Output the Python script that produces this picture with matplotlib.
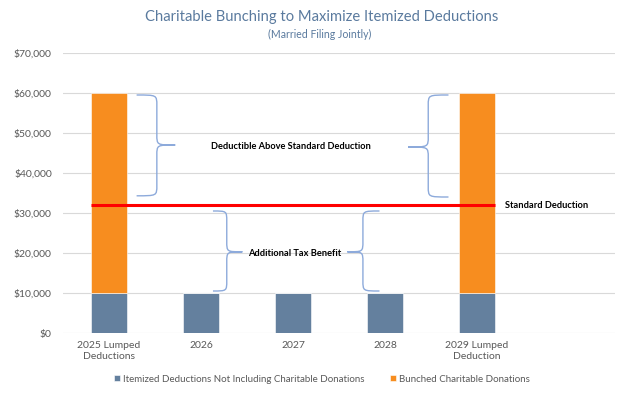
import matplotlib
matplotlib.use("Agg")
import matplotlib.pyplot as plt
from matplotlib.path import Path
from matplotlib.patches import PathPatch
from matplotlib.ticker import FuncFormatter

plt.rcParams['font.family'] = ['Lato', 'DejaVu Sans']

categories = ["2025 Lumped\nDeductions", "2026", "2027", "2028", "2029 Lumped\nDeduction", ""]
itemized = [10000, 10000, 10000, 10000, 10000, 0]
bunched = [50000, 0, 0, 0, 50000, 0]
standard_deduction = 32000
series_names = ["Itemized Deductions Not Including Charitable Donations",
                "Bunched Charitable Donations"]

BLUE = "#64809E"
ORANGE = "#F78D1F"
BRACE = "#8DAADB"
GREY = "#595959"
TITLE = "#5A7A9E"

fig = plt.figure(figsize=(6.22, 3.93), dpi=100)
ax = fig.add_axes([63/622, 1-333/393, (615-63)/622, (333-53)/393])

x = list(range(len(categories)))
w = 0.4
b1 = ax.bar(x, itemized, width=w, color=BLUE, edgecolor="white", linewidth=0.4,
            label=series_names[0], zorder=3)
b2 = ax.bar(x, bunched, width=w, bottom=itemized, color=ORANGE, edgecolor="white",
            linewidth=0.4, label=series_names[1], zorder=3)

ax.plot([-w/2, 4 + w/2], [standard_deduction]*2, color="#FF0000", lw=2.2, zorder=4,
        solid_capstyle="butt")

ax.set_xlim(-0.5, len(categories) - 0.5)
ax.set_ylim(0, 70000)
ax.set_yticks(range(0, 70001, 10000))
ax.yaxis.set_major_formatter(FuncFormatter(lambda v, p: f"${v:,.0f}"))
ax.set_xticks(x)
ax.set_xticklabels(categories)
ax.grid(axis="y", color="#D9D9D9", lw=0.8, zorder=0)
for s in ax.spines.values():
    s.set_visible(False)
ax.tick_params(axis="both", length=0, labelsize=7.5, colors=GREY)
ax.tick_params(axis="y", pad=8)
ax.tick_params(axis="x", pad=6)


def brace(xe, xs, xt, ytop, ybot, ymid, r=2600):
    verts = [(xe, ytop), (xs, ytop), (xs, ytop), (xs, ytop - r),
             (xs, ymid + r),
             (xs, ymid), (xs, ymid), (xt, ymid),
             (xs, ymid), (xs, ymid), (xs, ymid - r),
             (xs, ybot + r),
             (xs, ybot), (xs, ybot), (xe, ybot)]
    codes = [Path.MOVETO, Path.CURVE4, Path.CURVE4, Path.CURVE4,
             Path.LINETO,
             Path.CURVE4, Path.CURVE4, Path.CURVE4,
             Path.CURVE4, Path.CURVE4, Path.CURVE4,
             Path.LINETO,
             Path.CURVE4, Path.CURVE4, Path.CURVE4]
    ax.add_patch(PathPatch(Path(verts, codes), fill=False, edgecolor=BRACE, lw=1.0, zorder=5))


brace(0.30, 0.52, 0.72, 59500, 34300, 47000)
brace(3.69, 3.47, 3.25, 59500, 34000, 46500)
brace(1.13, 1.28, 1.45, 30500, 10500, 20300)
brace(2.94, 2.76, 2.59, 30500, 10500, 20300)

ax.text(1.98, 46700, "Deductible Above Standard Deduction", ha="center", va="center",
        fontsize=6.7, fontweight="bold", color="black")
ax.text(2.02, 20000, "Additional Tax Benefit", ha="center", va="center",
        fontsize=6.7, fontweight="bold", color="black")
ax.text(4.30, standard_deduction, "Standard Deduction", ha="left", va="center",
        fontsize=6.7, fontweight="bold", color="black")

fig.text(322/622, 1-17/393, "Charitable Bunching to Maximize Itemized Deductions",
         ha="center", va="center", fontsize=10.6, color=TITLE)
fig.text(320/622, 1-34/393, "(Married Filing Jointly)", ha="center", va="center",
         fontsize=7.6, color=TITLE)

leg = fig.legend(handles=[b1, b2], loc="center", bbox_to_anchor=(322/622, 1-379/393),
                 ncol=2, frameon=False, fontsize=7, handlelength=0.6, handleheight=0.6,
                 handletextpad=0.3, columnspacing=2.6)
for t in leg.get_texts():
    t.set_color(GREY)

fig.savefig("out.png", dpi=100)
